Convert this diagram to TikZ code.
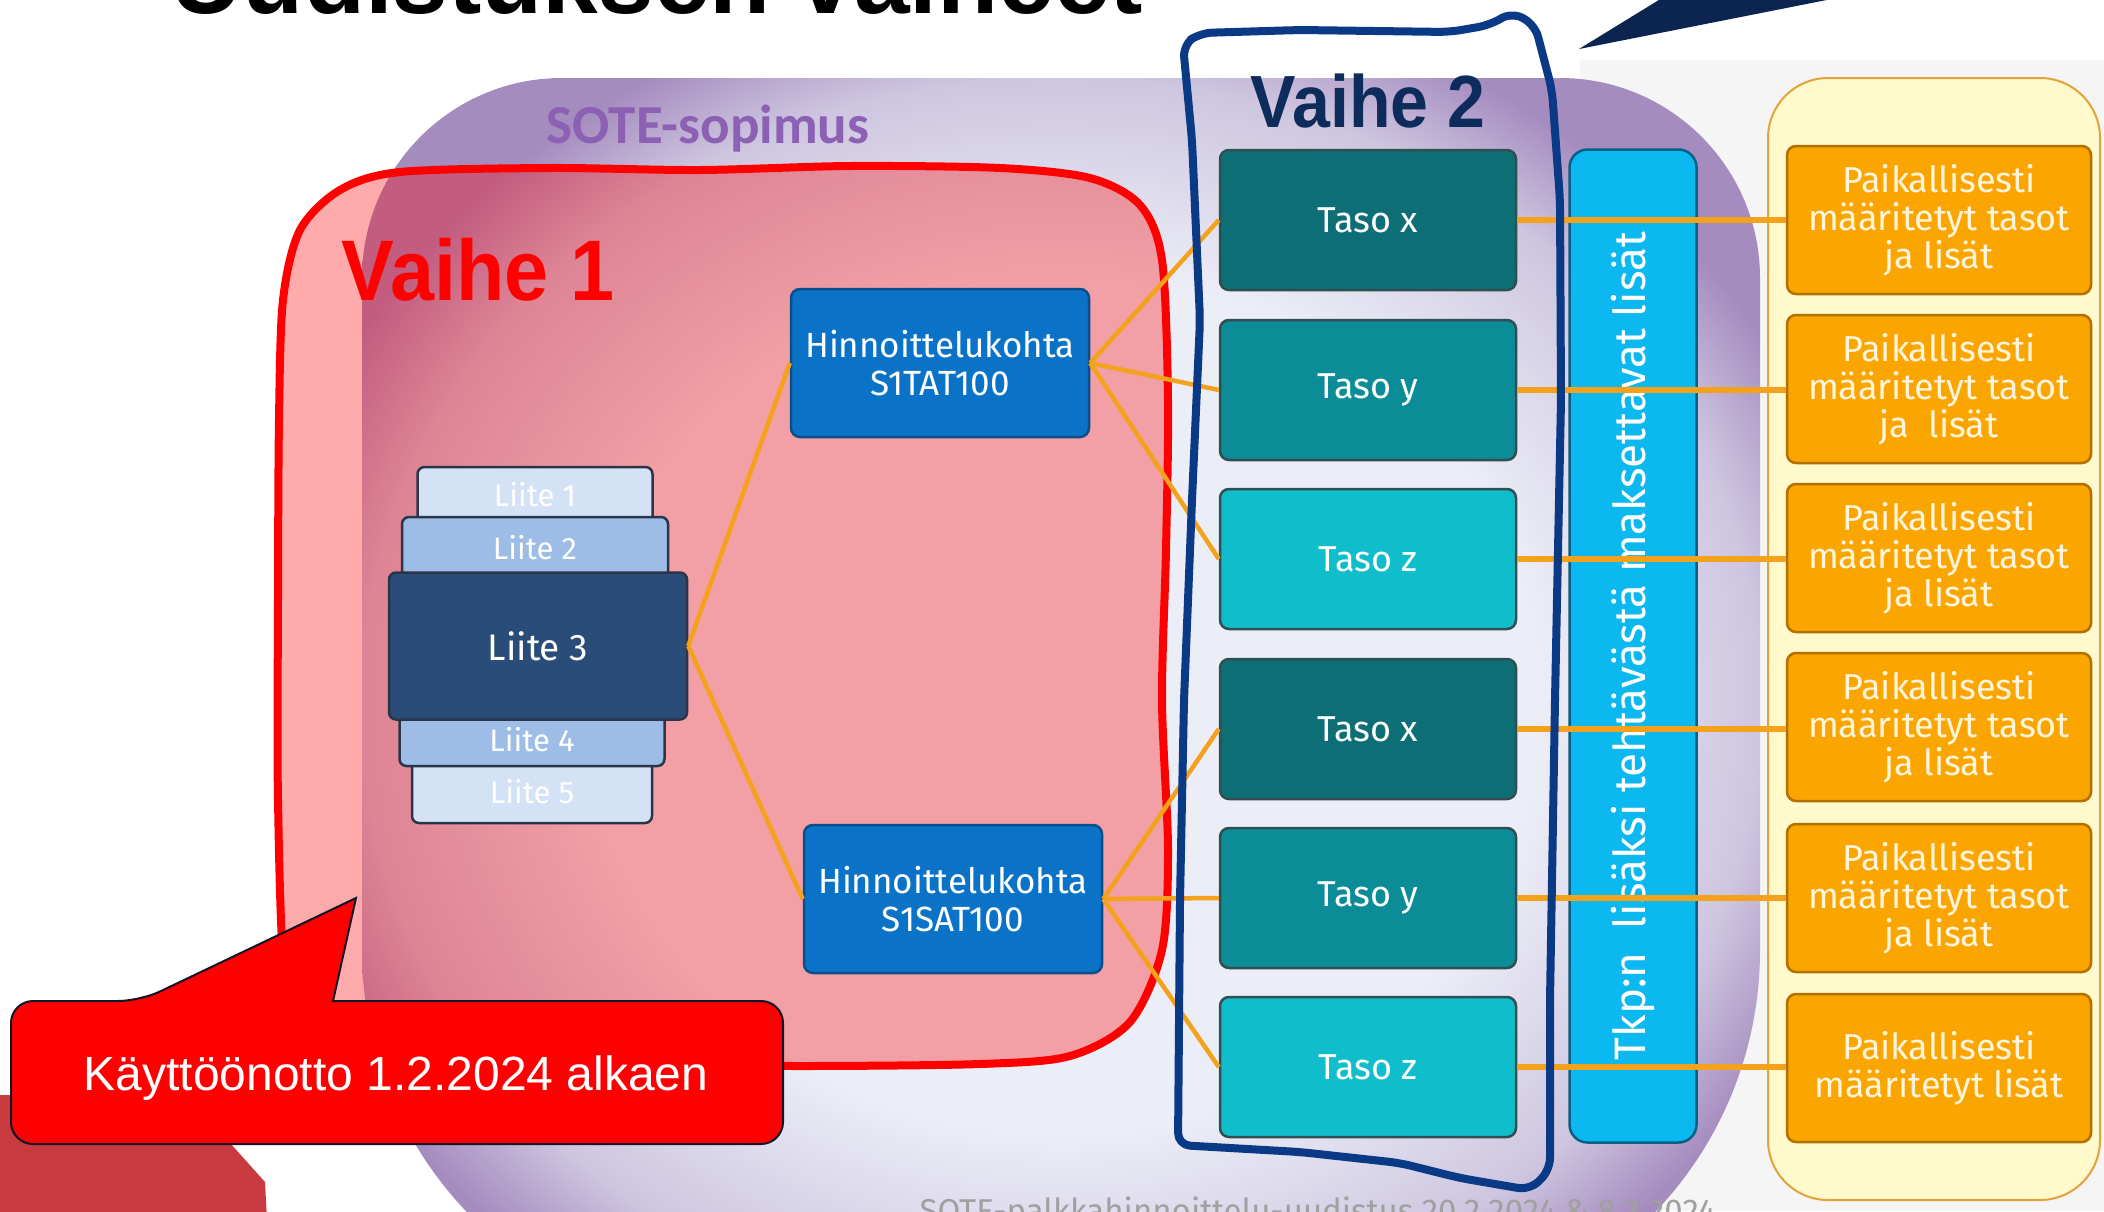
\documentclass[tikz,border=0pt]{standalone}
\usepackage{fontspec}
\setmainfont{Fira Sans}
\newfontfamily\headfont{Liberation Sans}
\newfontfamily\sopimusfont{Carlito}
\usetikzlibrary{calc}
\definecolor{sotepurple}{HTML}{A58CBF}
\definecolor{sotemid}{HTML}{CEC6E0}
\definecolor{sotelight}{HTML}{ECEEF7}
\definecolor{sopimuspurple}{HTML}{8C60B2}
\definecolor{vaihered}{HTML}{FF0000}
\definecolor{vaihenavy}{HTML}{0A3A85}
\definecolor{vaihetextnavy}{HTML}{0D2B5B}
\definecolor{pointernavy}{HTML}{0B2550}
\definecolor{darkred}{HTML}{C83A3F}
\definecolor{calloutedge}{HTML}{141428}
\definecolor{liitelight}{HTML}{D4E2F5}
\definecolor{liitemid}{HTML}{9DBDE6}
\definecolor{liitedark}{HTML}{2A4C79}
\definecolor{liiteedge}{HTML}{2A3548}
\definecolor{hintablue}{HTML}{0A73C8}
\definecolor{hintaedge}{HTML}{0A4E8A}
\definecolor{tasodark}{HTML}{0E6E75}
\definecolor{tasomid}{HTML}{0B8C97}
\definecolor{tasolight}{HTML}{10BECB}
\definecolor{tasoedge}{HTML}{2F4F52}
\definecolor{barblue}{HTML}{0CB8F0}
\definecolor{baredge}{HTML}{0A5F85}
\definecolor{paikorange}{HTML}{FBA500}
\definecolor{paikedge}{HTML}{B27000}
\definecolor{paiktext}{HTML}{FFF5DC}
\definecolor{yellowbg}{HTML}{FFF9CC}
\definecolor{yellowedge}{HTML}{E2A33A}
\definecolor{linkorange}{HTML}{F4A11C}
\definecolor{footergray}{HTML}{A0A0A0}
\pgfdeclareradialshading{sotebg}{\pgfpoint{0bp}{0bp}}{color(0bp)=(sotelight); color(17bp)=(sotelight); color(25bp)=(sotemid); color(29bp)=(sotepurple); color(50bp)=(sotepurple)}
\tikzset{
	link/.style={draw=linkorange,line width=4.5pt},%
	tasolink/.style={draw=linkorange,line width=6pt},%
	box/.style={rounded corners=9pt,line width=2.5pt,align=center,text=white,inner sep=0pt},%
	liitebox/.style={box,draw=liiteedge,rounded corners=7pt,font=\fontsize{31}{34}\selectfont},%
	hintabox/.style={box,fill=hintablue,draw=hintaedge,minimum width=298pt,minimum height=148pt,font=\fontsize{35}{38}\selectfont},%
	tasobox/.style={box,draw=tasoedge,minimum width=296pt,minimum height=140pt,font=\fontsize{36}{40}\selectfont},%
	barbox/.style={box,fill=barblue,draw=baredge,rounded corners=18pt,minimum width=993pt,minimum height=127pt,rotate=90,font=\fontsize{44}{46}\selectfont},%
	paikbox/.style={box,fill=paikorange,draw=paikedge,text=paiktext,minimum width=304pt,minimum height=148pt,font=\fontsize{36}{38}\selectfont},%
	vaihe1/.style={draw=vaihered,line width=8pt,fill=vaihered,fill opacity=0.33},%
	vaihe2/.style={draw=vaihenavy,line width=8pt,rounded corners=12pt,line join=round},%
	callout/.style={fill=vaihered,draw=calloutedge,line width=2pt},%
	headtext/.style={anchor=base,xscale=0.92},%
}
\def\tasocol{1368}
\def\paikcol{1939}

\begin{document}
\begin{tikzpicture}[x=1pt,y=-1pt]
		\useasboundingbox (0,0) rectangle (2104,1211);
		\clip (0,0) rectangle (2104,1211);
		\fill[white] (0,0) rectangle (2104,1211);
		\fill[black!4] (1580,60) rectangle (2104,1211);
		\node[anchor=base,font=\headfont\bfseries\fontsize{100}{100}\selectfont] (otsikko) at (657,13) {Uudistuksen vaiheet};
		\fill[pointernavy] (1579,49) -- (1667,-5) -- (1852,-5) -- cycle;
		\path[shading=sotebg] (362,700) {[rounded corners=200pt] -- (362,78) -- (1760,78) -- (1760,700)} {[rounded corners=380pt] -- (1760,1330) -- (362,1330) -- (362,700)} -- cycle;
		\draw[fill=yellowbg,draw=yellowedge,line width=2pt,rounded corners=60pt] (1768,78) rectangle (2100,1200);
		\draw[vaihe1] plot[smooth cycle,tension=0.5] coordinates {(278,600) (279,420) (283,300) (300,230) (340,190) (400,172) (550,168) (700,170) (850,166) (1000,168) (1090,178) (1140,205) (1162,260) (1168,400) (1166,550) (1162,700) (1168,850) (1162,950) (1130,1022) (1070,1056) (980,1064) (800,1066) (650,1064) (500,1064) (380,1060) (310,1035) (285,980) (278,800)};
		\node[anchor=base,text=sopimuspurple,font=\sopimusfont\bfseries\fontsize{55}{60}\selectfont] (sopimus) at (708,143) {SOTE-sopimus};
		\node[liitebox,fill=liitelight,minimum width=235pt,minimum height=56pt] (liite1) at (535,495) {Liite 1};
		\node[liitebox,fill=liitelight,minimum width=240pt,minimum height=62pt] (liite5) at (532,792) {Liite 5};
		\node[liitebox,fill=liitemid,minimum width=266pt,minimum height=62pt] (liite2) at (535,548) {Liite 2};
		\node[liitebox,fill=liitemid,minimum width=265pt,minimum height=52pt] (liite4) at (532,740) {Liite 4};
		\node[liitebox,fill=liitedark,minimum width=298pt,minimum height=147pt,font=\fontsize{37}{40}\selectfont] (liite3) at (538,646) {Liite 3};
		\node[hintabox] (hinta1) at (940,363) {Hinnoittelukohta\\S1TAT100};
		\node[hintabox] (hinta2) at (953,899) {Hinnoittelukohta\\S1SAT100};
		\node[tasobox,fill=tasodark] (tasox1) at (\tasocol,220) {Taso x};
		\node[tasobox,fill=tasomid] (tasoy1) at (\tasocol,390) {Taso y};
		\node[tasobox,fill=tasolight] (tasoz1) at (\tasocol,559) {Taso z};
		\node[tasobox,fill=tasodark] (tasox2) at (\tasocol,729) {Taso x};
		\node[tasobox,fill=tasomid] (tasoy2) at (\tasocol,898) {Taso y};
		\node[tasobox,fill=tasolight] (tasoz2) at (\tasocol,1067) {Taso z};
		\node[barbox] (lisat) at (1633,646) {Tkp:n\ \ lisäksi tehtävästä maksettavat lisät};
		\node[paikbox] (paik1) at (\paikcol,220) {Paikallisesti\\määritetyt tasot\\ja lisät};
		\node[paikbox] (paik2) at (\paikcol,389) {Paikallisesti\\määritetyt tasot\\ja\ \ lisät};
		\node[paikbox] (paik3) at (\paikcol,558) {Paikallisesti\\määritetyt tasot\\ja lisät};
		\node[paikbox] (paik4) at (\paikcol,727) {Paikallisesti\\määritetyt tasot\\ja lisät};
		\node[paikbox] (paik5) at (\paikcol,898) {Paikallisesti\\määritetyt tasot\\ja lisät};
		\node[paikbox] (paik6) at (\paikcol,1068) {Paikallisesti\\määritetyt lisät};
		\draw[link] (liite3.east) -- (hinta1.west);
		\draw[link] (liite3.east) -- (hinta2.west);
		\draw[link] (hinta1.east) -- (tasox1.west);
		\draw[link] (hinta1.east) -- (tasoy1.west);
		\draw[link] (hinta1.east) -- (tasoz1.west);
		\draw[link] (hinta2.east) -- (tasox2.west);
		\draw[link] (hinta2.east) -- (tasoy2.west);
		\draw[link] (hinta2.east) -- (tasoz2.west);
		\draw[tasolink] (tasox1.east) -- (tasox1.east -| paik1.west);
		\draw[tasolink] (tasoy1.east) -- (tasoy1.east -| paik2.west);
		\draw[tasolink] (tasoz1.east) -- (tasoz1.east -| paik3.west);
		\draw[tasolink] (tasox2.east) -- (tasox2.east -| paik4.west);
		\draw[tasolink] (tasoy2.east) -- (tasoy2.east -| paik5.west);
		\draw[tasolink] (tasoz2.east) -- (tasoz2.east -| paik6.west);
		\draw[vaihe2] (1183,45) -- (1192,140) -- (1200,320) -- (1192,500) -- (1184,700) -- (1180,900) -- (1178,1145) -- (1300,1152) -- (1400,1163) -- (1460,1178) -- (1530,1190) -- (1550,1170) -- (1550,1000) -- (1555,700) -- (1561,400) -- (1560,200) -- (1552,90) -- (1535,25) -- (1512,12) -- (1490,25) -- (1450,32) -- (1300,30) -- (1200,33) -- cycle;
		\node[headtext,text=vaihered,font=\headfont\bfseries\fontsize{86}{90}\selectfont] (vaiheyksi) at (478,300) {Vaihe 1};
		\node[headtext,text=vaihetextnavy,font=\headfont\bfseries\fontsize{74}{78}\selectfont] (vaihekaksi) at (1368,127) {Vaihe 2};
		\fill[darkred] (-5,1095) -- (187,1095) -- (265,1182) -- (267,1220) -- (-5,1220) -- cycle;
		\draw[callout] (560,1001) {[rounded corners=22pt] -- (783,1001) -- (783,1144) -- (11,1144) -- (11,1001) -- (140,1001)} -- (356,898) -- (333,1001) -- cycle;
		\node[anchor=base,text=white,font=\headfont\fontsize{48}{50}\selectfont] (kayttoonotto) at (396,1090) {Käyttöönotto 1.2.2024 alkaen};
		\node[anchor=base west,text=footergray,font=\fontsize{33}{33}\selectfont] (alatunniste) at (916,1222) {SOTE-palkkahinnoittelu-uudistus 20.2.2024 \& 8.3.2024};
	\end{tikzpicture}
\end{document}
